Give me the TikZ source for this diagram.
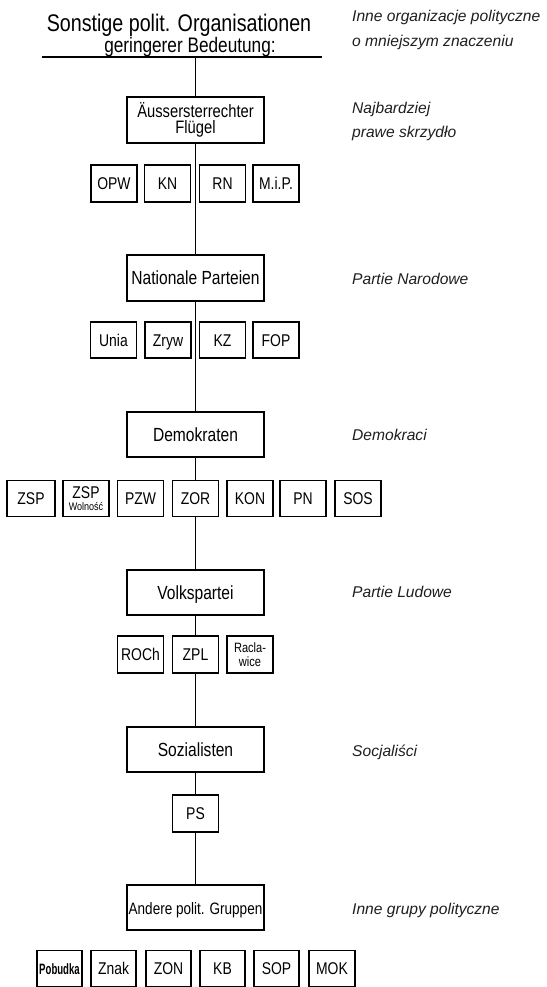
\documentclass[tikz,border=0pt]{standalone}
\usepackage{fontspec}
\usepackage{graphicx}
\setmainfont{Liberation Sans}
\newfontfamily\handfont[FakeStretch=0.82]{Liberation Sans}
\newfontfamily\labfont{Liberation Sans}
\begin{document}
\begin{tikzpicture}[x=1pt,y=-1pt,
  boxbase/.style={draw, line width=1.4pt, inner sep=0pt, align=center},
  mainbox/.style={boxbase, minimum width=137pt, minimum height=45pt, text height=13.5pt, text depth=0pt, font=\handfont\fontsize{19}{20}\selectfont},
  subbase/.style={boxbase, minimum width=46pt, minimum height=36pt, font=\handfont\fontsize{17}{18}\selectfont},
  subbox/.style={subbase, text height=12pt, text depth=0pt},
  conn/.style={line width=1.4pt},
  lab/.style={anchor=base west, inner sep=0pt, font=\labfont\itshape\fontsize{15.6}{18}\selectfont, text=black!88},
  titletext/.style={anchor=base, inner sep=0pt, font=\handfont\fontsize{24}{26}\selectfont}
]
\useasboundingbox[fill=white] (0,0) rectangle (546,987);

% title
\node[titletext] (t1) at (179,32) {Sonstige polit. Organisationen};
\node[titletext, font=\handfont\fontsize{21}{24}\selectfont] (t2) at (190,53) {geringerer Bedeutung:};
\coordinate (ul1) at (42,57);
\coordinate (ul2) at (322,57);
\coordinate (top) at (195.5,57);
\draw[conn] (ul1) -- (ul2);

% main boxes
\node[boxbase, minimum width=137pt, minimum height=46pt, font=\handfont\fontsize{18}{16.5}\selectfont] (a) at (195.5,120) {Äussersterrechter\\Flügel};
\node[mainbox, minimum height=46pt] (n) at (195.5,278) {Nationale Parteien};
\node[mainbox] (d) at (195.5,434.5) {Demokraten};
\node[mainbox] (v) at (195.5,592.5) {Volkspartei};
\node[mainbox] (s) at (195.5,749.5) {Sozialisten};
\node[mainbox, font=\handfont\fontsize{16.5}{20}\selectfont] (g) at (195.5,907.5) {Andere polit. Gruppen};

% row 1
\node[subbox, minimum height=37pt] (opw) at (114,183.5) {OPW};
\node[subbox, minimum height=37pt] (kn) at (167.5,183.5) {KN};
\node[subbox, minimum height=37pt] (rn) at (222.5,183.5) {RN};
\node[subbox, minimum height=37pt] (mip) at (276,183.5) {M.i.P.};

% row 2
\node[subbox] (unia) at (113.5,340) {Unia};
\node[subbox] (zryw) at (168,340) {Zryw};
\node[subbox] (kz) at (222.5,340) {KZ};
\node[subbox] (fop) at (276,340) {FOP};

% row 3
\node[subbox, minimum width=48pt] (zsp) at (31,498.5) {ZSP};
\node[subbase, font=\handfont\fontsize{17}{11.5}\selectfont] (zspw) at (86,498.5) {ZSP\\{\fontsize{11}{11}\selectfont Wolność}};
\node[subbox] (pzw) at (140.5,498.5) {PZW};
\node[subbox] (zor) at (195.5,498.5) {ZOR};
\node[subbox] (kon) at (250,498.5) {KON};
\node[subbox] (pn) at (303,498.5) {PN};
\node[subbox] (sos) at (358,498.5) {SOS};

% row 4
\node[subbox, minimum height=37pt] (roch) at (140.5,654.5) {ROCh};
\node[subbox, minimum height=37pt] (zpl) at (195.5,654.5) {ZPL};
\node[subbase, minimum height=37pt, font=\handfont\fontsize{13.5}{14}\selectfont] (racl) at (250,654.5) {Racla-\\wice};

% PS
\node[subbox, minimum height=37pt] (ps) at (195.5,813.5) {PS};

% row 6
\node[subbox, minimum width=45pt] (pob) at (59.5,968.5) {\scalebox{0.78}[1]{\bfseries\fontsize{15}{16}\selectfont Pobudka}};
\node[subbox, minimum width=45pt] (znak) at (113.5,968.5) {Znak};
\node[subbox, minimum width=45pt] (zon) at (168.5,968.5) {ZON};
\node[subbox, minimum width=45pt] (kb) at (222.5,968.5) {KB};
\node[subbox, minimum width=45pt] (sop) at (276.5,968.5) {SOP};
\node[subbox, minimum width=46pt] (mok) at (332,968.5) {MOK};

% connectors
\draw[conn] (top) -- (a.north);
\draw[conn] (a.south) -- (n.north);
\draw[conn] (n.south) -- (d.north);
\draw[conn] (d.south) -- (zor.north);
\draw[conn] (zor.south) -- (v.north);
\draw[conn] (v.south) -- (zpl.north);
\draw[conn] (zpl.south) -- (s.north);
\draw[conn] (s.south) -- (ps.north);
\draw[conn] (ps.south) -- (g.north);

% right labels
\node[lab] (l1a) at (352,22) {Inne organizacje polityczne};
\node[lab] (l1b) at (352,47) {o mniejszym znaczeniu};
\node[lab] (l2a) at (352,114) {Najbardziej};
\node[lab] (l2b) at (352,138) {prawe skrzydło};
\node[lab] (l3) at (352,284) {Partie Narodowe};
\node[lab] (l4) at (352,440) {Demokraci};
\node[lab] (l5) at (352,597) {Partie Ludowe};
\node[lab] (l6) at (352,756) {Socjaliści};
\node[lab] (l7) at (352,914) {Inne grupy polityczne};
\end{tikzpicture}
\end{document}
